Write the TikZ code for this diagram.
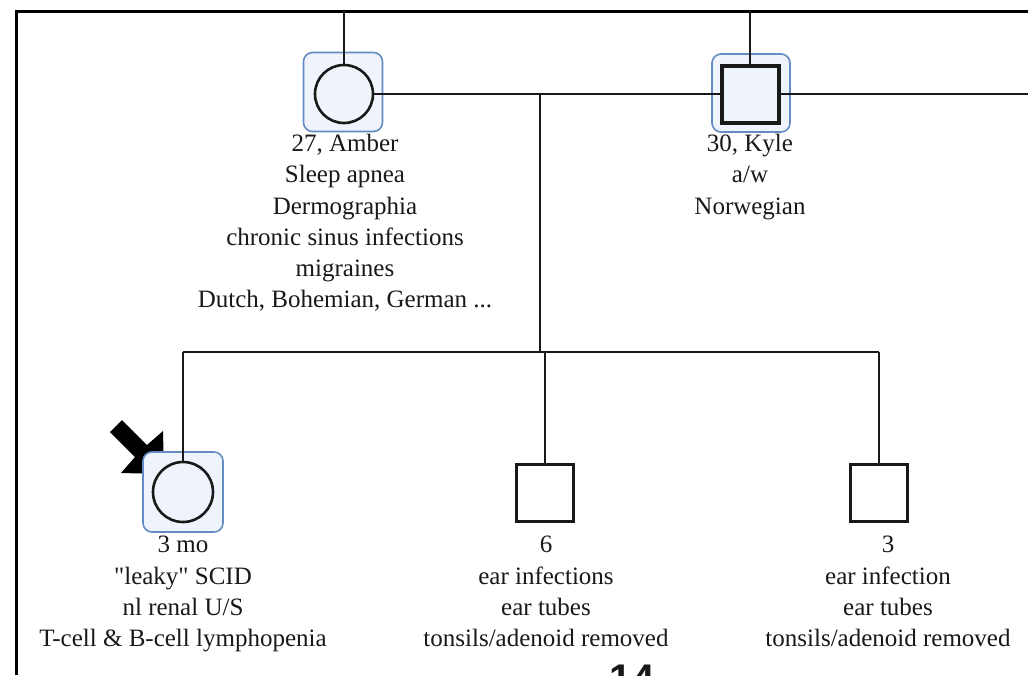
\documentclass[tikz,border=0pt]{standalone}
\usepackage{fontspec}
\setmainfont{Liberation Serif}
\setsansfont{Liberation Sans}
\newfontfamily\qfont{Liberation Serif}
\definecolor{hlblue}{RGB}{100,140,195}
\definecolor{hlfill}{RGB}{238,243,252}
\definecolor{ink}{RGB}{25,25,25}
\begin{document}
\begin{tikzpicture}[x=0.5pt,y=-0.5pt,
  hl/.style={draw=hlblue, fill=hlfill, line width=0.8pt, rounded corners=4.5pt, inner sep=0},
  female/.style={circle, draw=ink, line width=1.3pt, inner sep=0, minimum size=29pt},
  male/.style={rectangle, draw=ink, line width=1.4pt, inner sep=0, minimum size=28.5pt},
  conn/.style={line width=1pt, draw=ink},
  lbl/.style={align=center, text=ink, font=\fontsize{12.5}{15.6}\selectfont, inner sep=0, anchor=north}]
\useasboundingbox (0,0) rectangle (1028,675);
\fill[white] (0,0) rectangle (1028,675);
% frame
\coordinate (fbl) at (16,675);
\coordinate (ftl) at (16,11);
\coordinate (ftr) at (1028,11);
\draw[line width=1.5pt, black] (fbl) -- (ftl) -- (ftr);
% proband arrow (drawn below the highlight)
\fill[black] (110,432) -- (122,420) -- (147,445) -- (163,431) -- (164,474) -- (121,473) -- (135,457) -- cycle;
% highlight boxes
\node[hl, minimum size=39.5pt] (amberhl) at (343,92) {};
\node[hl, minimum size=39pt] (kylehl) at (751,93) {};
\node[hl, minimum size=40pt] (c1hl) at (183,492) {};
% symbols
\node[female] (amber) at (344,94) {};
\node[male, line width=2pt] (kyle) at (750,94) {};
\node[female, minimum size=30pt] (c1) at (183,492) {};
\node[male, fill=white] (c2) at (545,493) {};
\node[male, fill=white] (c3) at (879,493) {};
% coordinates
\coordinate (atop) at (344,11);
\coordinate (ktop) at (750,11);
\coordinate (redge) at (1028,94);
\coordinate (mid) at (540,94);
\coordinate (sibm) at (540,352);
\coordinate (s1) at (183,352);
\coordinate (s2) at (545,352);
\coordinate (s3) at (879,352);
% connectors
\draw[conn] (atop) -- (amber.north);
\draw[conn] (ktop) -- (kyle.north);
\draw[conn] (amber.east) -- (kyle.west);
\draw[conn] (kyle.east) -- (redge);
\draw[conn] (mid) -- (sibm);
\draw[conn] (s1) -- (s3);
\draw[conn] (s1) -- (c1.north);
\draw[conn] (s2) -- (c2.north);
\draw[conn] (s3) -- (c3.north);
% labels
\node[lbl] (amberlbl) at (345,134) {27, Amber\\Sleep apnea\\Dermographia\\chronic sinus infections\\migraines\\Dutch, Bohemian, German ...};
\node[lbl] (kylelbl) at (750,134) {30, Kyle\\a/w\\Norwegian};
\node[lbl] (c1lbl) at (183,536) {3 mo\\{\qfont"}leaky{\qfont"} SCID\\nl renal U/S\\T-cell \& B-cell lymphopenia};
\node[lbl] (c2lbl) at (546,536) {6\\ear infections\\ear tubes\\tonsils/adenoid removed};
\node[lbl] (c3lbl) at (888,536) {3\\ear infection\\ear tubes\\tonsils/adenoid removed};
\node[font=\sffamily\bfseries\fontsize{20}{20}\selectfont, anchor=north, inner sep=0, text=ink] (pg) at (632,665) {14};
\end{tikzpicture}
\end{document}
